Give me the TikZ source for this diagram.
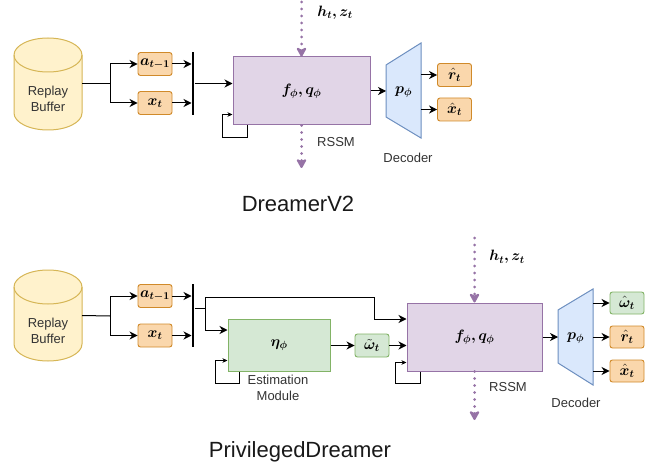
\RequirePackage{fix-cm}
\documentclass[tikz,border=0pt]{standalone}
\usepackage{fontspec}
\setmainfont{Liberation Sans}
\usepackage{bm}
\usetikzlibrary{arrows.meta,calc}
\definecolor{orgfill}{HTML}{FAD7AC}
\definecolor{orgline}{HTML}{D08A2A}
\definecolor{grnfill}{HTML}{D5E8D4}
\definecolor{grnline}{HTML}{82B366}
\definecolor{purfill}{HTML}{E1D5E7}
\definecolor{purline}{HTML}{9673A6}
\definecolor{blufill}{HTML}{DAE8FC}
\definecolor{bluline}{HTML}{6C8EBF}
\definecolor{yelfill}{HTML}{FFF2CC}
\definecolor{yelline}{HTML}{D6B656}
\definecolor{txt}{HTML}{333333}
\tikzset{
  ln/.style={draw=black, line width=1pt},
  arr/.style={draw=black, line width=1pt, -{Stealth[length=8pt,width=8pt,inset=2.5pt]}},
  arrsmall/.style={draw=black, line width=0.9pt, -{Stealth[length=5pt,width=4.5pt,inset=1.5pt]}},
  dotarr/.style={draw=purline, line width=3pt, line cap=round, dash pattern=on 0pt off 7pt,
     -{Stealth[length=11pt,width=12pt,inset=3pt,round=false]}},
  smallbox/.style={rounded corners=2.5pt, line width=0.9pt, minimum width=34pt, minimum height=23pt,
     inner sep=0pt, font=\fontsize{15}{17}\selectfont},
  obox/.style={smallbox, draw=orgline, fill=orgfill},
  gbox/.style={smallbox, draw=grnline, fill=grnfill},
  bigbox/.style={line width=1pt, inner sep=0pt, font=\fontsize{15}{17}\selectfont},
  pbox/.style={bigbox, draw=purline, fill=purfill},
  ebox/.style={bigbox, draw=grnline, fill=grnfill},
  holder/.style={inner sep=0pt, outer sep=0pt},
  lbl/.style={text=txt, inner sep=0pt, font=\fontsize{13}{16}\selectfont, align=center},
  mlbl/.style={inner sep=0pt, font=\fontsize{15}{17}\selectfont},
  ttl/.style={text=black!90, inner sep=0pt, font=\fontsize{22}{26}\selectfont},
  cyl/.style={fill=yelfill, draw=yelline, line width=1pt},
  dec/.style={fill=blufill, draw=bluline, line width=1pt},
  barnode/.style={fill=black, minimum width=2.6pt, minimum height=63pt, inner sep=0pt}
}
\begin{document}
\begin{tikzpicture}[x=1pt,y=-1pt]
\useasboundingbox (0,0) rectangle (656,468);

%% ================= DreamerV2 =================
\path[cyl] (14,55) -- (14,113) arc[start angle=180,end angle=360,x radius=34pt,y radius=17pt]
   -- (82,55) arc[start angle=0,end angle=180,x radius=34pt,y radius=17pt] -- cycle;
\draw[yelline, line width=1pt] (14,55) arc[start angle=180,end angle=360,x radius=34pt,y radius=17pt];
\node[holder, minimum width=68pt, minimum height=92pt] (buf1) at (48,84) {};
\node[lbl] at (48,99) {Replay\\Buffer};

\node[obox] (a1) at (155,64) {$\bm{a_{t-1}}$};
\node[obox] (x1) at (155,103) {$\bm{x_t}$};
\node[barnode] (bar1) at (193,83.5) {};
\coordinate (sp1) at (110,84);
\draw[ln] (buf1.east) -- (sp1);
\draw[arr] (sp1) |- (a1.west);
\draw[arr] (sp1) |- (x1.west);
\draw[arr] (a1.east) -- (a1.east -| bar1.west);
\draw[arr] (x1.east) -- (x1.east -| bar1.west);

\node[pbox, minimum width=137pt, minimum height=68pt] (rssm1) at (301.5,91) {$\bm{f_\phi, q_\phi}$};
\draw[arr] (bar1.east) -- (bar1.east -| rssm1.west);
\draw[arrsmall] ([xshift=15pt]rssm1.south west) |- ++(-25,12) |- ([yshift=11pt]rssm1.south west);
\coordinate (in1) at (301.5,2);
\coordinate (out1) at (301.5,168);
\draw[dotarr] (in1) -- (rssm1.north);
\draw[dotarr] (rssm1.south) -- (out1);
\node[mlbl] at (335,13) {$\bm{h_t, z_t}$};
\node[lbl] at (336,142) {RSSM};

\node[holder, minimum width=35pt, minimum height=95pt] (dec1) at (403.5,90.5) {};
\path[dec] (dec1.north east) -- (dec1.south east) -- ([yshift=21pt]dec1.south west)
   -- ([yshift=-22pt]dec1.north west) -- cycle;
\node[mlbl] at (403.5,92) {$\bm{p_\phi}$};
\draw[arr] (rssm1.east) -- (rssm1.east -| dec1.west);
\node[obox] (r1) at (454.5,75) {$\bm{\hat r_t}$};
\node[obox] (xh1) at (454.5,109.5) {$\bm{\hat x_t}$};
\draw[arr] (dec1.east |- r1) -- (r1.west);
\draw[arr] (dec1.east |- xh1) -- (xh1.west);
\node[lbl] at (408,158) {Decoder};

\node[ttl] at (298,204) {DreamerV2};

%% ================= PrivilegedDreamer =================
\path[cyl] (14,287) -- (14,344) arc[start angle=180,end angle=360,x radius=34pt,y radius=17pt]
   -- (82,287) arc[start angle=0,end angle=180,x radius=34pt,y radius=17pt] -- cycle;
\draw[yelline, line width=1pt] (14,287) arc[start angle=180,end angle=360,x radius=34pt,y radius=17pt];
\node[holder, minimum width=68pt, minimum height=91pt] (buf2) at (48,315.5) {};
\node[lbl] at (48,331) {Replay\\Buffer};

\node[obox] (a2) at (155,296) {$\bm{a_{t-1}}$};
\node[obox] (x2) at (155,335.5) {$\bm{x_t}$};
\node[barnode] (bar2) at (193,315.5) {};
\coordinate (sp2) at (110,316);
\draw[ln] (buf2.east) -- (sp2);
\draw[arr] (sp2) |- (a2.west);
\draw[arr] (sp2) |- (x2.west);
\draw[arr] (a2.east) -- (a2.east -| bar2.west);
\draw[arr] (x2.east) -- (x2.east -| bar2.west);

\node[ebox, minimum width=102pt, minimum height=52pt] (est2) at (279,345) {$\bm{\eta_\phi}$};
\node[pbox, minimum width=135pt, minimum height=68pt] (rssm2) at (474.5,337) {$\bm{f_\phi, q_\phi}$};
\node[gbox] (wt2) at (372,345.5) {$\bm{\tilde\omega_t}$};

\coordinate (j2) at (205,308);
\coordinate (c2) at (374,297);
\draw[ln] (bar2.east |- j2) -- (j2);
\draw[arr] (j2) |- (c2) |- ([yshift=18pt]rssm2.west);
\draw[arr] (j2) |- ([yshift=15pt]est2.west);
\draw[arrsmall] ([xshift=12pt]est2.south west) |- ++(-24,12) |- ([yshift=11pt]est2.south west);
\node[lbl] at (278,388) {Estimation\\Module};
\draw[arr] (est2.east |- wt2) -- (wt2.west);
\draw[arr] (wt2.east) -- (wt2.east -| rssm2.west);
\draw[arrsmall] ([xshift=14pt]rssm2.south west) |- ++(-25,12) |- ([yshift=9pt]rssm2.south west);

\coordinate (in2) at (474.5,238);
\coordinate (out2) at (474.5,420);
\draw[dotarr] (in2) -- (rssm2.north);
\draw[dotarr] (rssm2.south) -- (out2);
\node[mlbl] at (507,257) {$\bm{h_t, z_t}$};
\node[lbl] at (508,387) {RSSM};

\node[holder, minimum width=35pt, minimum height=96pt] (dec2) at (575.5,337) {};
\path[dec] (dec2.north east) -- (dec2.south east) -- ([yshift=22pt]dec2.south west)
   -- ([yshift=-21pt]dec2.north west) -- cycle;
\node[mlbl] at (575.5,338) {$\bm{p_\phi}$};
\draw[arr] (rssm2.east) -- (rssm2.east -| dec2.west);
\node[gbox, minimum height=22pt] (wh2) at (627,303) {$\bm{\hat\omega_t}$};
\node[obox, minimum height=22pt] (rh2) at (627,337) {$\bm{\hat r_t}$};
\node[obox, minimum height=22pt] (xh2) at (627,371) {$\bm{\hat x_t}$};
\draw[arr] (dec2.east |- wh2) -- (wh2.west);
\draw[arr] (dec2.east |- rh2) -- (rh2.west);
\draw[arr] (dec2.east |- xh2) -- (xh2.west);
\node[lbl] at (576,403) {Decoder};

\node[ttl] at (300,452) {PrivilegedDreamer};
\end{tikzpicture}
\end{document}
